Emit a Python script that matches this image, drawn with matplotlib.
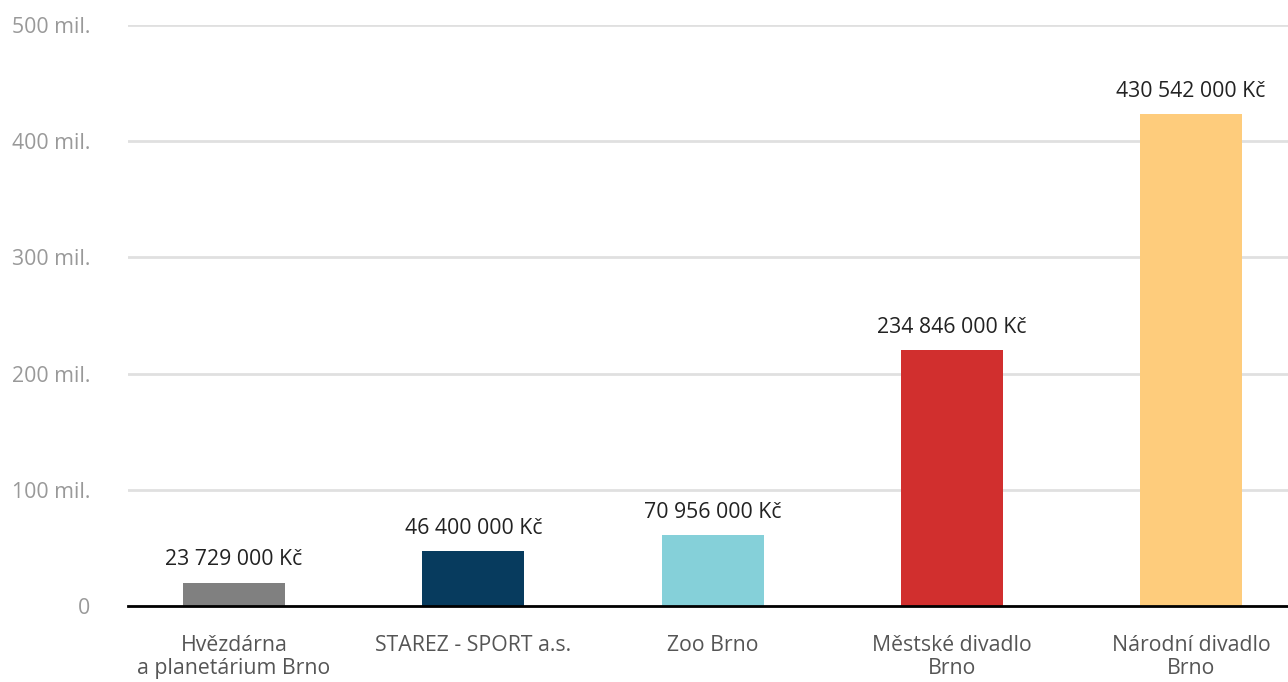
import matplotlib
matplotlib.use("Agg")
import matplotlib.pyplot as plt

plt.rcParams['font.family'] = ['Open Sans', 'DejaVu Sans']

# data (bar heights in millions as drawn, labels as printed)
categories = ["Hvězdárna\na planetárium Brno", "STAREZ - SPORT a.s.", "Zoo Brno",
              "Městské divadlo\nBrno", "Národní divadlo\nBrno"]
heights = [19.8, 47.3, 61.1, 220.3, 423.4]
value_labels = ["23 729 000 Kč", "46 400 000 Kč", "70 956 000 Kč",
                "234 846 000 Kč", "430 542 000 Kč"]
colors = ["#808080", "#073b5e", "#85d0d9", "#d12f2e", "#fecc7c"]
yticks = [0, 100, 200, 300, 400, 500]
ytick_labels = ["0", "100 mil.", "200 mil.", "300 mil.", "400 mil.", "500 mil."]


def main():
    fig = plt.figure(figsize=(12.88, 6.82), dpi=100)
    ax = fig.add_axes([128 / 1288, 1 - 606 / 682, 1 - 128 / 1288, (606 - 25) / 682])

    x = list(range(len(categories)))
    bars = ax.bar(x, heights, width=0.426, color=colors, zorder=2)
    for b, lab in zip(bars, value_labels):
        ax.annotate(lab, (b.get_x() + b.get_width() / 2, b.get_height()),
                    xytext=(0, 9), textcoords="offset points",
                    ha="center", va="bottom", fontsize=15.3, color="#222222")

    ax.set_xlim(-0.443, 4.405)
    ax.set_ylim(0, 500)
    ax.set_yticks(yticks)
    ax.set_yticklabels(ytick_labels)
    ax.set_xticks(x)
    ax.set_xticklabels(categories, linespacing=1.14)
    ax.tick_params(axis="y", length=0, pad=27, labelsize=15.3, labelcolor="#999999")
    ax.tick_params(axis="x", length=0, pad=21, labelsize=15.3, labelcolor="#555555")

    ax.grid(axis="y", color="#e0e0e0", linewidth=2, zorder=0)
    for s in ["top", "right", "left"]:
        ax.spines[s].set_visible(False)
    ax.spines["bottom"].set_linewidth(2)
    ax.spines["bottom"].set_color("#000000")
    ax.spines["bottom"].set_zorder(3)

    fig.savefig("out.png", dpi=100)


if __name__ == '__main__':
    main()
